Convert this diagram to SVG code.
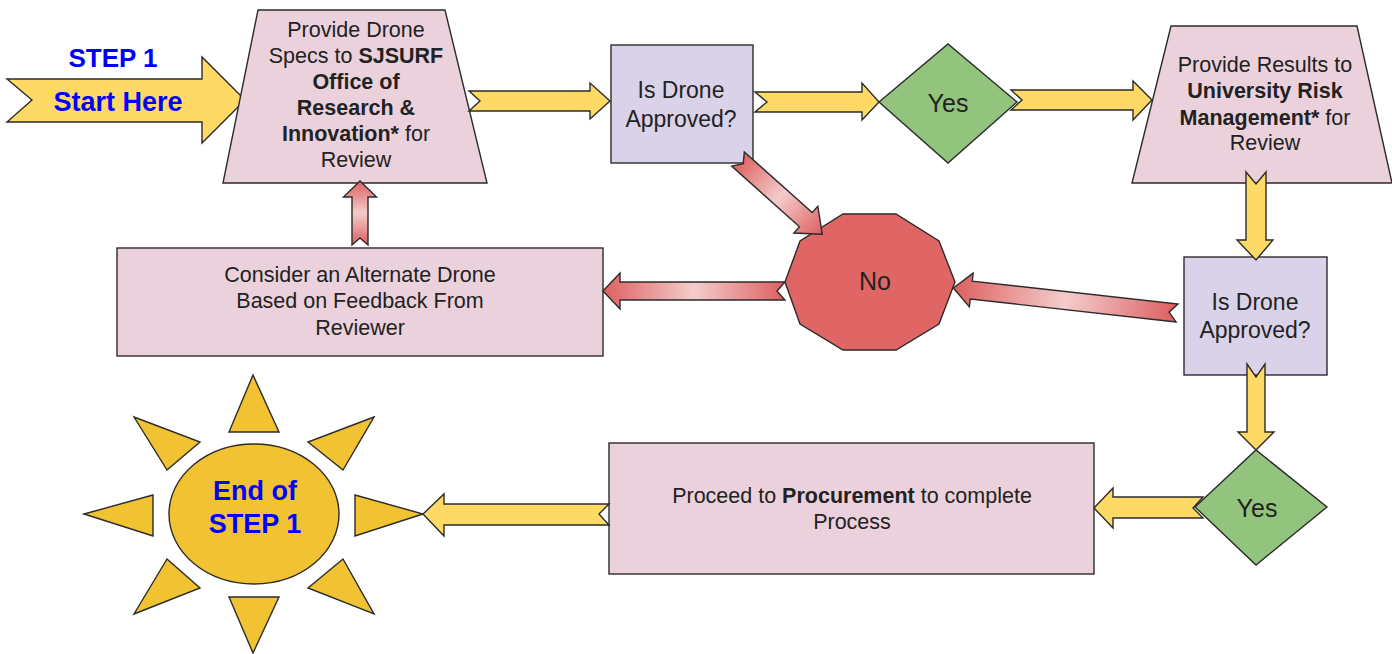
<svg xmlns="http://www.w3.org/2000/svg" width="1392" height="654" viewBox="0 0 1392 654">
<defs>
<linearGradient id="rg" x1="0" y1="0" x2="1" y2="0">
<stop offset="0" stop-color="#dd5f5f"/>
<stop offset="0.5" stop-color="#f4cccc"/>
<stop offset="1" stop-color="#dd5f5f"/>
</linearGradient>
</defs>
<style>
.sh{stroke:#2b2b2b;stroke-width:1.4;stroke-linejoin:miter}
.pink{fill:#ead1dc}
.purple{fill:#d9d2e9}
.green{fill:#93c47d}
.red{fill:#e06666}
.yel{fill:#ffd966;stroke:#2b2b2b;stroke-width:1.4}
.ra{fill:url(#rg);stroke:#2b2b2b;stroke-width:1.4}
.sun{fill:#f1c232;stroke:#2b2b2b;stroke-width:1.4}
text{font-family:"Liberation Sans",Arial,sans-serif;fill:#222;text-anchor:middle}
.t{font-size:21.5px}
.q{font-size:23px}
.big{font-size:25px}
.b{font-weight:bold}
.blue{fill:#0000ff;font-weight:bold}
</style>

<g id="start">
<path class="yel" d="M7,79 L202,79 L202,57 L245,100 L202,143 L202,122 L7,122 L32,100 Z"/>
<text class="blue" x="113" y="67" font-size="26">STEP 1</text>
<text class="blue" x="118" y="111" font-size="27">Start Here</text>
</g>

<g id="submit-sjsurf">
<polygon class="sh pink" points="258,10 445,10 487,183 223,183"/>
<text class="t" x="356" y="37">Provide Drone</text>
<text class="t" x="356" y="63">Specs to <tspan class="b">SJSURF</tspan></text>
<text class="t b" x="356" y="89">Office of</text>
<text class="t b" x="356" y="115">Research &amp;</text>
<text class="t" x="356" y="141"><tspan class="b">Innovation*</tspan> for</text>
<text class="t" x="356" y="167">Review</text>
</g>

<g id="approved-1">
<rect class="sh purple" x="611" y="45" width="142" height="118"/>
<text class="q" x="681" y="98">Is Drone</text>
<text class="q" x="681" y="127">Approved?</text>
</g>

<g id="yes-1">
<polygon class="sh green" points="879,102 948,44 1017,102 948,163"/>
<text class="big" x="948" y="112">Yes</text>
</g>

<g id="submit-risk">
<polygon class="sh pink" points="1171,26 1357,26 1392,183 1132,183"/>
<text class="t" x="1265" y="72">Provide Results to</text>
<text class="t b" x="1265" y="98">University Risk</text>
<text class="t" x="1265" y="125"><tspan class="b">Management*</tspan> for</text>
<text class="t" x="1265" y="150">Review</text>
</g>

<g id="approved-2">
<rect class="sh purple" x="1184" y="257" width="143" height="118"/>
<text class="q" x="1255" y="310">Is Drone</text>
<text class="q" x="1255" y="338">Approved?</text>
</g>

<g id="yes-2">
<polygon class="sh green" points="1195,507 1256,450 1327,507 1256,565"/>
<text class="big" x="1257" y="517">Yes</text>
</g>

<g id="no">
<polygon class="sh red" points="843,214 896,214 939,241 955,282 939,324 896,350 843,350 800,324 785,282 800,241"/>
<text class="big" x="875" y="290">No</text>
</g>

<g id="alternate">
<rect class="sh pink" x="117" y="248" width="486" height="108"/>
<text class="t" x="360" y="282">Consider an Alternate Drone</text>
<text class="t" x="360" y="308">Based on Feedback From</text>
<text class="t" x="360" y="335">Reviewer</text>
</g>

<g id="procurement">
<rect class="sh pink" x="609" y="443" width="485" height="131"/>
<text class="t" x="852" y="503">Proceed to <tspan class="b">Procurement</tspan> to complete</text>
<text class="t" x="852" y="529">Process</text>
</g>

<g id="end">
<polygon class="sun" points="253,375 279,432 229,432"/>
<polygon class="sun" points="229,597 279,597 253,653"/>
<polygon class="sun" points="84,514 153,495 153,536"/>
<polygon class="sun" points="355,495 423,514 355,536"/>
<polygon class="sun" points="134,417 200,442 167,470"/>
<polygon class="sun" points="374,417 308,442 343,470"/>
<polygon class="sun" points="167,559 200,588 134,614"/>
<polygon class="sun" points="343,559 308,588 374,614"/>
<ellipse class="sun" cx="254" cy="514" rx="85" ry="70"/>
<text class="blue" x="255" y="500" font-size="27">End of</text>
<text class="blue" x="255" y="533" font-size="27">STEP 1</text>
</g>

<g id="connectors">
<path class="yel" d="M469,91 L590,91 L590,83 L610,101 L590,119 L590,111 L469,111 L480,101 Z"/>
<path class="yel" d="M755,92 L862,92 L862,83 L879,102 L862,120 L862,112 L755,112 L767,102 Z"/>
<path class="yel" d="M1011,90 L1133,90 L1133,81 L1152,100 L1133,120 L1133,110 L1011,110 L1022,100 Z"/>
<path class="yel" d="M1246,172 L1256,184 L1266,172 L1266,240 L1273,240 L1256,260 L1237,240 L1246,240 Z"/>
<path class="yel" d="M1247,364 L1256,377 L1265,364 L1265,432 L1274,432 L1256,450 L1238,432 L1247,432 Z"/>
<path class="yel" d="M1203,497 L1113,497 L1113,488 L1094,508 L1113,528 L1113,518 L1203,518 L1193,508 Z"/>
<path class="yel" d="M609,504 L444,504 L444,494 L423,514 L444,536 L444,525 L609,525 L599,514 Z"/>
<path class="ra" transform="translate(360,245) rotate(-90)" d="M0,-8 L48,-8 L48,-16.5 L64,0 L48,16.5 L48,8 L0,8 L7,0 Z"/>
<path class="ra" d="M785,282 L620,282 L620,273 L603,291 L620,309 L620,300 L785,300 L777,291 Z"/>
<path class="ra" transform="translate(1177,313) rotate(186.37)" d="M0,-9 L207,-9 L207,-17 L225,0 L207,17 L207,9 L0,9 L8,0 Z"/>
<path class="ra" transform="translate(738,159) rotate(41.8)" d="M0,-9.5 L91,-9.5 L91,-18 L113,0 L91,18 L91,9.5 L0,9.5 L7,0 Z"/>
</g>
</svg>
